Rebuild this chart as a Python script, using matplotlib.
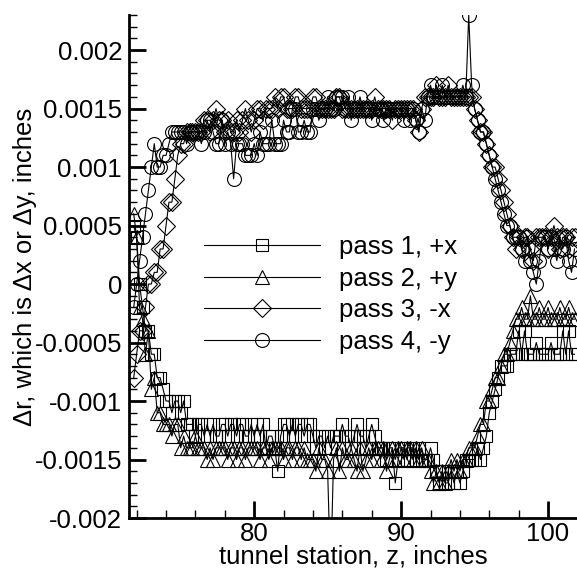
import matplotlib
matplotlib.use("Agg")
import matplotlib.pyplot as plt
import numpy as np

plt.rcParams["font.family"] = ["Liberation Sans", "DejaVu Sans"]

# tunnel station grid: 71.8 .. 101.8 in steps of 0.2 inches
z_start, z_step = 71.8, 0.2

# displacement readings in units of 1e-4 inch, one row per 2 inches of station
pass1_px = [
    5, 4, 0, -2, -4, -4, -6, -6, -8, -8,
    -9, -10, -10, -11, -10, -10, -11, -10, -12, -12,
    -12, -13, -12, -12, -13, -12, -13, -12, -13, -13,
    -12, -12, -13, -12, -12, -13, -12, -12, -13, -13,
    -12, -13, -12, -13, -12, -14, -13, -13, -14, -16,
    -13, -12, -12, -13, -12, -13, -12, -12, -13, -12,
    -12, -13, -14, -13, -13, -14, -13, -14, -13, -13,
    -13, -12, -13, -13, -14, -13, -12, -13, -13, -14,
    -13, -12, -13, -14, -14, -14, -15, -14, -14, -17,
    -15, -14, -14, -15, -14, -14, -15, -14, -15, -15,
    -15, -14, -15, -16, -17, -16, -17, -17, -16, -17,
    -16, -17, -16, -15, -15, -15, -15, -14, -15, -14,
    -13, -11, -10, -9, -8, -7, -7, -7, -6, -6,
    -6, -4, -6, -4, -6, -6, -6, -5, -6, -6,
    -6, -6, -5, -6, -6, -6, -4, -6, -4, -6,
    -6,
]
pass2_py = [
    6, 4, -2, -3, -6, -4, -9, -8, -11, -11,
    -12, -12, -12, -13, -12, -12, -14, -13, -14, -14,
    -14, -13, -14, -14, -14, -15, -14, -15, -14, -14,
    -14, -14, -15, -14, -14, -15, -14, -14, -15, -14,
    -14, -14, -14, -15, -14, -14, -15, -14, -14, -14,
    -14, -15, -14, -14, -15, -14, -14, -15, -14, -15,
    -15, -15, -16, -14, -15, -15, -16, -25, -15, -14,
    -16, -14, -15, -15, -14, -15, -16, -14, -16, -15,
    -14, -15, -14, -14, -15, -14, -16, -15, -14, -15,
    -14, -14, -15, -14, -14, -15, -14, -15, -14, -15,
    -15, -16, -17, -16, -17, -16, -17, -16, -15, -16,
    -15, -16, -15, -15, -14, -14, -14, -13, -12, -12,
    -10, -10, -9, -8, -8, -7, -6, -6, -5, -4,
    -3, -3, -2, -3, -3, -1, -3, -3, -2, -3,
    -3, -2, -3, -3, -3, -2, -3, -3, -2, -3,
    -3,
]
pass3_mx = [
    -8, -6, -4, -4, -2, 0, 0, 1, 1, 3,
    3, 5, 7, 7, 9, 11, 12, 12, 13, 13,
    13, 13, 13, 13, 14, 14, 13, 14, 15, 14,
    14, 13, 14, 13, 13, 14, 13, 14, 15, 14,
    13, 14, 15, 15, 14, 15, 15, 15, 16, 15,
    16, 16, 15, 15, 15, 16, 16, 15, 15, 15,
    15, 16, 16, 15, 15, 15, 15, 15, 15, 16,
    16, 15, 15, 15, 15, 15, 15, 15, 15, 15,
    15, 15, 16, 15, 15, 15, 15, 15, 14, 15,
    15, 15, 15, 15, 15, 15, 14, 13, 15, 16,
    16, 16, 16, 17, 16, 16, 16, 17, 16, 16,
    16, 16, 16, 16, 16, 16, 15, 14, 13, 13,
    12, 11, 10, 10, 9, 8, 7, 6, 5, 4,
    3, 4, 3, 4, 4, 3, 2, 4, 4, 4,
    4, 3, 4, 5, 4, 3, 4, 4, 3, 4,
    4,
]
pass4_my = [
    -2, 0, 2, 4, 6, 8, 10, 12, 10, 10,
    11, 11, 12, 13, 13, 13, 13, 13, 12, 13,
    13, 13, 13, 12, 13, 14, 14, 13, 12, 12,
    14, 12, 13, 12, 9, 12, 12, 12, 11, 11,
    11, 12, 11, 13, 12, 12, 12, 14, 12, 12,
    12, 14, 13, 13, 15, 15, 13, 13, 14, 13,
    13, 15, 15, 14, 15, 15, 16, 15, 15, 16,
    16, 16, 15, 16, 14, 15, 15, 16, 15, 15,
    15, 14, 15, 15, 15, 14, 15, 15, 15, 15,
    15, 15, 14, 15, 14, 15, 14, 13, 15, 14,
    16, 17, 16, 16, 16, 17, 16, 16, 16, 16,
    16, 16, 17, 16, 23, 17, 15, 14, 13, 13,
    12, 11, 10, 9, 8, 7, 6, 5, 5, 4,
    4, 4, 3, 2, 4, 2, 1, 0, 2, 4,
    4, 3, 4, 3, 2, 4, 3, 4, 2, 1,
    3,
]

series = [
    ("pass 1, +x", pass1_px, "s", 8.5),
    ("pass 2, +y", pass2_py, "^", 10),
    ("pass 3, -x", pass3_mx, "D", 9),
    ("pass 4, -y", pass4_my, "o", 10),
]

fig = plt.figure(figsize=(5.77, 5.69), dpi=100)
ax = fig.add_axes([129 / 577, 1 - 518 / 569, 448 / 577, 503 / 569])

for label, vals, mk, ms in series:
    y = np.array(vals) * 1e-4
    z = z_start + z_step * np.arange(len(y))
    ax.plot(z, y, color="black", lw=0.8, marker=mk, ms=ms, mfc="none",
            mec="black", mew=0.8, label=label)

ax.set_xlim(71.48, 101.97)
ax.set_ylim(-0.002, 0.0023)
ax.set_xticks([80, 90, 100])
ax.set_xticks(np.arange(72, 102, 2), minor=True)
ax.set_yticks(np.arange(-0.002, 0.00201, 0.0005))
ax.set_yticks(np.arange(-0.002, 0.00231, 0.0001), minor=True)
ax.yaxis.set_major_formatter(plt.FuncFormatter(lambda v, p: "0" if abs(v) < 1e-9 else f"{v:g}"))

for s in ("top", "right"):
    ax.spines[s].set_visible(False)
for s in ("left", "bottom"):
    ax.spines[s].set_linewidth(2)
ax.tick_params(which="major", direction="in", length=12, width=2, labelsize=18.5, pad=5)
ax.tick_params(axis="x", which="major", pad=3)
ax.tick_params(which="minor", direction="in", length=6, width=1)

ax.set_xlabel("tunnel station, z, inches", fontsize=18.5, labelpad=-1.5)
ax.set_ylabel("\u0394r, which is \u0394x or \u0394y, inches", fontsize=18.5, labelpad=-2)

ax.legend(loc="upper left", bbox_to_anchor=(204 / 577, 1 - 235 / 569),
          bbox_transform=fig.transFigure, frameon=False, fontsize=18.5,
          handlelength=4.5, handletextpad=0.75, labelspacing=0.3,
          borderpad=0, borderaxespad=0, numpoints=1)

fig.savefig("out.png", dpi=100)
